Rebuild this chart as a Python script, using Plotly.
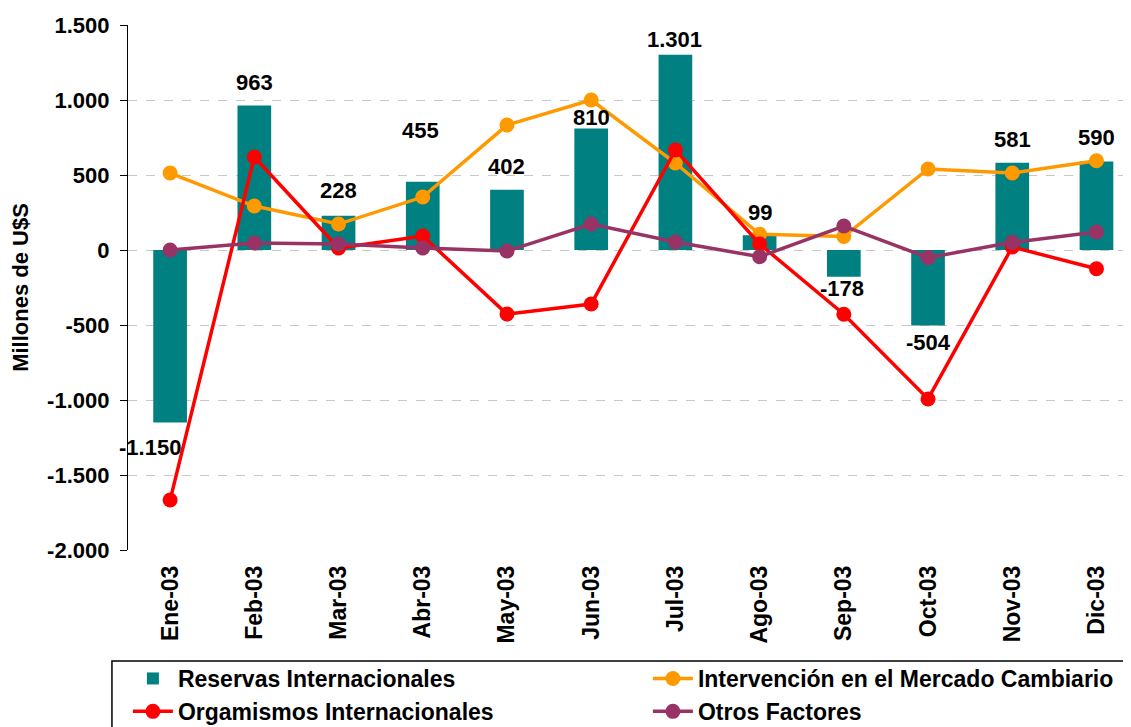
import plotly.graph_objects as go

categories = ["Ene-03", "Feb-03", "Mar-03", "Abr-03", "May-03", "Jun-03",
              "Jul-03", "Ago-03", "Sep-03", "Oct-03", "Nov-03", "Dic-03"]
reservas = [-1150, 963, 228, 455, 402, 810, 1301, 99, -178, -504, 581, 590]
intervencion = [513, 293, 173, 353, 833, 1000, 580, 105, 90, 540, 513, 595]
organismos = [-1667, 620, 13, 93, -427, -360, 667, 40, -428, -993, 20, -125]
otros = [0, 47, 40, 13, -7, 173, 53, -45, 160, -51, 51, 120]
y_ticks = [1500, 1000, 500, 0, -500, -1000, -1500, -2000]

# pixel offsets of the bar value labels (as placed in the original chart)
label_yshift = [-24.5, 23, 25, 51, 23, 11, 15.5, 22.5, -11.6, -16.5, 23.5, 24.5]
label_xshift = [-20, 0, 0, -2, 0, 0, -1, 0, -2, 0, 0, 0]


def fmt(v):
    return f"{v:,}".replace(",", ".")


FONT = "Liberation Sans, Arial, sans-serif"
bold = dict(family=FONT, weight="bold", color="black")

fig = go.Figure()
fig.add_trace(go.Bar(
    x=categories, y=reservas, name="Reservas Internacionales",
    marker=dict(color="#008080", line=dict(width=0)), width=0.4,
    hoverinfo="x+y",
))
line_series = [
    ("Intervención en el Mercado Cambiario", intervencion, "#FF9900"),
    ("Orgamismos Internacionales", organismos, "#FF0000"),
    ("Otros Factores", otros, "#993366"),
]
for name, vals, col in line_series:
    fig.add_trace(go.Scatter(
        x=categories, y=vals, name=name, mode="lines+markers",
        line=dict(color=col, width=3.5),
        marker=dict(color=col, size=15, line=dict(width=0)),
        cliponaxis=False,
    ))

annotations = [
    dict(x=c, y=v, xref="x", yref="y", text=fmt(v), showarrow=False,
         xanchor="center", yanchor="middle", yshift=ys, xshift=xs,
         font=dict(size=22, **bold))
    for c, v, ys, xs in zip(categories, reservas, label_yshift, label_xshift)
]

ymin, ymax = -2000, 1500
n = len(categories)
fig.update_layout(
    width=1123, height=719,
    margin=dict(l=120, r=0, t=17, b=177, autoexpand=False),
    plot_bgcolor="white", paper_bgcolor="white",
    font=dict(family=FONT, color="black"),
    showlegend=True,
    annotations=annotations,
    legend=dict(
        orientation="h", x=-0.0001, y=-0.2038, xanchor="left", yanchor="top",
        entrywidth=465, entrywidthmode="pixels", itemwidth=40,
        borderwidth=0, bgcolor="rgba(0,0,0,0)",
        font=dict(size=23, **bold), traceorder="normal",
        itemclick=False,
    ),
    shapes=[dict(
        type="rect", xref="paper", yref="paper",
        x0=-0.016, x1=1.05, y0=-0.45, y1=-0.2114,
        line=dict(color="black", width=1.5), fillcolor="rgba(0,0,0,0)",
        layer="below",
    )],
    xaxis=dict(
        type="category", range=[-0.5, n - 0.59],
        showline=False, showgrid=False, zeroline=False, ticks="",
        tickangle=-90, tickfont=dict(size=23, **bold), ticklabelstandoff=10,
    ),
    xaxis2=dict(
        overlaying="x", anchor="free",
        position=(0 - ymin) / (ymax - ymin),
        range=[-0.5, n - 0.59],
        tickvals=[i + 0.5 for i in range(n - 1)],
        showticklabels=False, ticks="outside", ticklen=8, tickwidth=1,
        tickcolor="#333333", showline=True, linecolor="#333333", linewidth=1.2,
        showgrid=False, zeroline=False,
    ),
    yaxis=dict(
        range=[ymin, ymax], tickvals=y_ticks, ticktext=[fmt(v) for v in y_ticks],
        showline=True, linecolor="black", linewidth=1.2,
        ticks="outside", ticklen=7, tickcolor="black",
        showgrid=True, gridcolor="#C8C8C8", griddash="dash", gridwidth=1,
        zeroline=False, ticklabelstandoff=6,
        tickfont=dict(size=22, **bold),
        title=dict(text="Millones de U$S", font=dict(size=22, **bold), standoff=14),
    ),
)
fig.write_html("out.html")
